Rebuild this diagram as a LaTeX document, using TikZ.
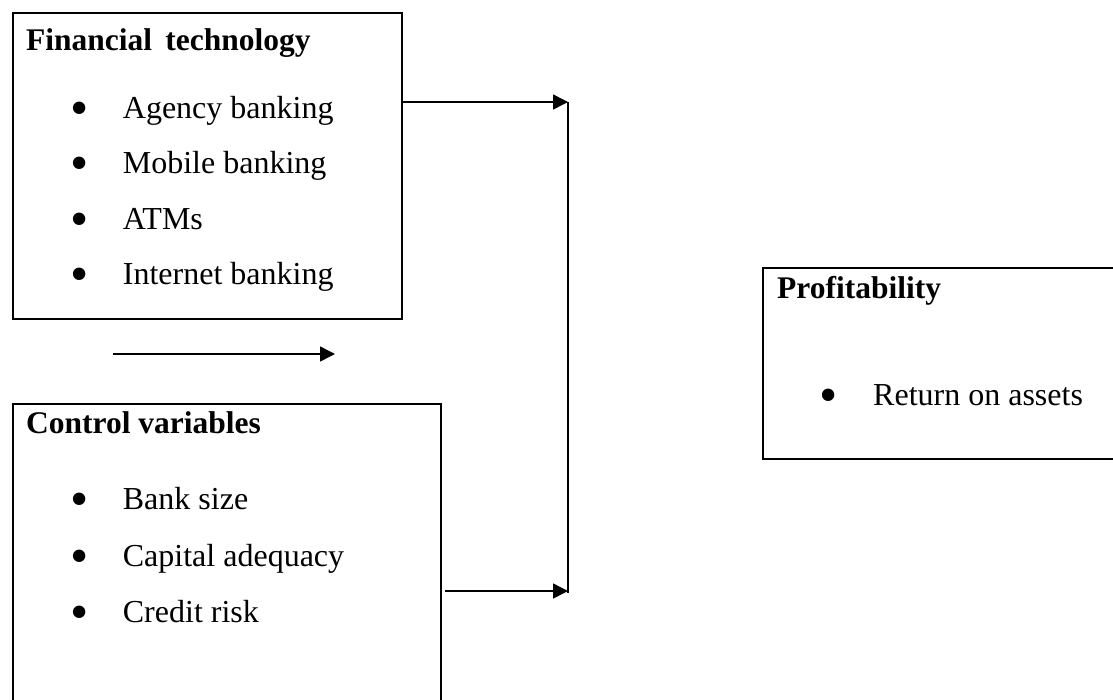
\documentclass[tikz,border=0pt]{standalone}
\usepackage{fontspec}
\setmainfont{Liberation Serif}
\usetikzlibrary{arrows.meta}
\begin{document}
\begin{tikzpicture}[x=1pt,y=-1pt,
  box/.style={draw=black,line width=1.8pt,rectangle,inner sep=0pt,anchor=north west},
  txt/.style={anchor=base west,inner sep=0pt,font=\fontsize{32}{38}\selectfont},
  head/.style={txt,font=\fontsize{31.5}{38}\selectfont\bfseries},
  bul/.style={anchor=center,inner sep=0pt,font=\fontsize{52}{60}\selectfont},
  arr/.style={line width=1.5pt,-{Triangle[length=15pt,width=15pt]}},
  conn/.style={line width=1.6pt}]
\useasboundingbox (0,0) rectangle (1113,699);
% boxes
\node[box,minimum width=389pt,minimum height=306pt] (fin) at (12,12) {};
\node[box,minimum width=428pt,minimum height=320pt] (ctrl) at (12,403) {};
\node[box,minimum width=370pt,minimum height=191pt] (prof) at (762,267) {};
% box 1 text
\node[head] (finh) at (26,50) {Financial\, technology};
\node[bul] (b1) at (80,113.5) {•};
\node[txt] (t1) at (122.7,118) {Agency banking};
\node[bul] (b2) at (80,168.5) {•};
\node[txt] (t2) at (122.7,173) {Mobile banking};
\node[bul] (b3) at (80,224.5) {•};
\node[txt] (t3) at (122.7,229) {ATMs};
\node[bul] (b4) at (80,279.5) {•};
\node[txt] (t4) at (122.7,284) {Internet banking};
% box 2 text
\node[head] (ctrlh) at (26,433) {Control variables};
\node[bul] (c1) at (80,504.5) {•};
\node[txt] (u1) at (122.7,509) {Bank size};
\node[bul] (c2) at (80,561.5) {•};
\node[txt] (u2) at (122.7,566) {Capital adequacy};
\node[bul] (c3) at (80,617.5) {•};
\node[txt] (u3) at (122.7,622) {Credit risk};
% box 3 text
\node[head] (profh) at (777,298) {Profitability};
\node[bul] (p1) at (829,400.5) {•};
\node[txt] (q1) at (873,405) {Return on assets};
% connectors
\coordinate (j1) at (568,102);
\coordinate (j2) at (568,593);
\coordinate (a2s) at (445,591);
\coordinate (f1) at (113,354);
\coordinate (f2) at (335,354);
\draw[arr] (fin.east |- j1) -- (j1);
\draw[conn] (j1) -- (j2);
\draw[arr] (a2s) -- (j1 |- a2s);
\draw[arr] (f1) -- (f2);
\end{tikzpicture}
\end{document}
